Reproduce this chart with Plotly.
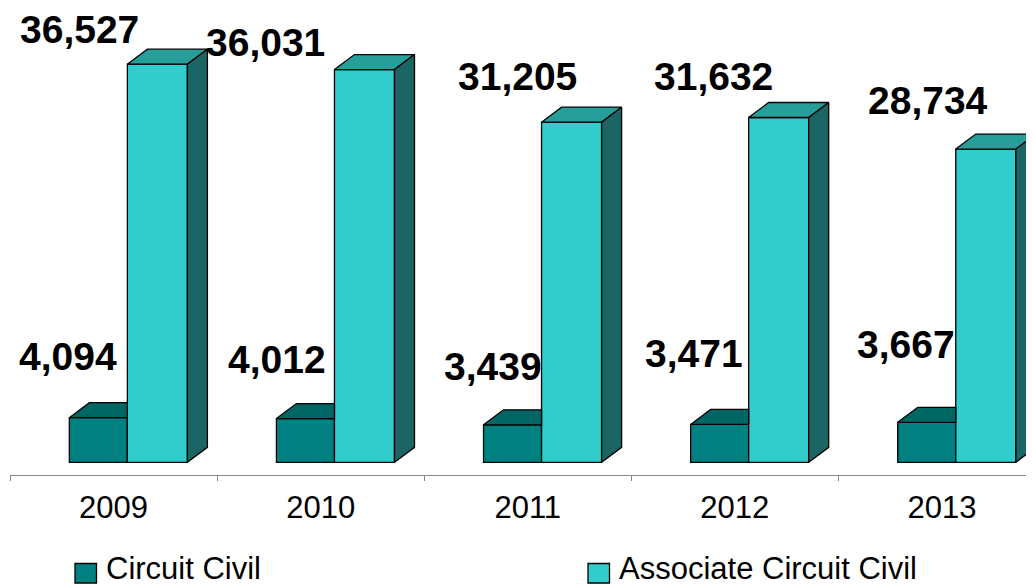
import plotly.graph_objects as go

# ---- data ----
years = ["2009", "2010", "2011", "2012", "2013"]
circuit_civil = [4094, 4012, 3439, 3471, 3667]
associate_circuit_civil = [36527, 36031, 31205, 31632, 28734]

# ---- style / geometry ----
OFS = 8                 # page body margin of the browser
W, H = 1034 - OFS, 587 - OFS
ML = 10 - OFS
PLOT_BOTTOM = 475 - OFS
MB = H - PLOT_BOTTOM
CAT_PX = 207.1          # pixels per category
VAL_PX = 0.0109         # pixels per value unit
BASE_PX = 462.3 - OFS   # pixel row of value 0
PLOT_H = H - MB

C_OFF, C_W = -0.2135, 0.2802
A_OFF, A_W = 0.0667, 0.2899
DDX = 20 / CAT_PX       # 3D depth offset (category units)
DDY = 15 / VAL_PX       # 3D depth offset (value units)

C_FRONT, C_TOP = "#008080", "#006663"
A_FRONT, A_TOP, A_SIDE = "#33CCCC", "#269E9A", "#1B6565"
OUTLINE = dict(color="black", width=1.3)
FONT = "Liberation Sans, Arial, sans-serif"

# label shifts in pixels relative to the top-centre of each bar front
a_lab_dx = [-77.8, -98.6, -54.5, -65.3, -57.4]
a_lab_dy = [35, 27, 45.6, 40.8, 49]
c_lab_dx = [-30.8, -28.6, -20, -25.9, -20.9]
c_lab_dy = [61.5, 58.6, 58.1, 70.5, 78.3]

pos = list(range(len(years)))

fig = go.Figure()
fig.add_bar(x=pos, y=circuit_civil, offset=C_OFF, width=C_W, name="Circuit Civil",
            marker=dict(color=C_FRONT, line=OUTLINE), showlegend=False, hoverinfo="skip")
fig.add_bar(x=pos, y=associate_circuit_civil, offset=A_OFF, width=A_W,
            name="Associate Circuit Civil",
            marker=dict(color=A_FRONT, line=OUTLINE), showlegend=False, hoverinfo="skip")


def faces(values, off, w, kind):
    xs, ys = [], []
    for i, v in zip(pos, values):
        xl = i + off
        xr = xl + w
        if kind == "top_clipped":
            px = [xl, xr, xr, xl + DDX, xl]
            py = [v, v, v + DDY, v + DDY, v]
        elif kind == "top":
            px = [xl, xr, xr + DDX, xl + DDX, xl]
            py = [v, v, v + DDY, v + DDY, v]
        else:  # side
            px = [xr, xr, xr + DDX, xr + DDX, xr]
            py = [0, v, v + DDY, DDY, 0]
        xs += px + [None]
        ys += py + [None]
    return xs, ys


for vals, off, w, kind, col in [
    (circuit_civil, C_OFF, C_W, "top_clipped", C_TOP),
    (associate_circuit_civil, A_OFF, A_W, "top", A_TOP),
    (associate_circuit_civil, A_OFF, A_W, "side", A_SIDE),
]:
    xs, ys = faces(vals, off, w, kind)
    fig.add_trace(go.Scatter(x=xs, y=ys, mode="lines", fill="toself", fillcolor=col,
                             line=OUTLINE, showlegend=False, hoverinfo="skip"))

annotations = []
for i, v in enumerate(associate_circuit_civil):
    annotations.append(dict(x=i + A_OFF + A_W / 2, y=v, xref="x", yref="y",
                            text=f"<b>{v:,}</b>", showarrow=False,
                            xshift=a_lab_dx[i], yshift=a_lab_dy[i],
                            font=dict(family=FONT, size=39, color="black")))
for i, v in enumerate(circuit_civil):
    annotations.append(dict(x=i + C_OFF + C_W / 2, y=v, xref="x", yref="y",
                            text=f"<b>{v:,}</b>", showarrow=False,
                            xshift=c_lab_dx[i], yshift=c_lab_dy[i],
                            font=dict(family=FONT, size=39, color="black")))


# custom legend (reference pixel positions converted to paper coordinates)
def px2paper_x(px):
    return (px - OFS - ML) / (W - ML)


def px2paper_y(py):
    return (PLOT_H - (py - OFS)) / PLOT_H


shapes = []
for (x0, label, col) in [(75, "Circuit Civil", C_FRONT),
                         (588, "Associate Circuit Civil", A_FRONT)]:
    shapes.append(dict(type="rect", xref="paper", yref="paper",
                       x0=px2paper_x(x0), x1=px2paper_x(x0 + 21.5),
                       y0=px2paper_y(583), y1=px2paper_y(563.5),
                       fillcolor=col, line=dict(color="black", width=1.3)))
    annotations.append(dict(x=px2paper_x(x0 + 29), y=px2paper_y(568.5), xref="paper",
                            yref="paper", text=label, showarrow=False,
                            xanchor="left", yanchor="middle",
                            font=dict(family=FONT, size=31, color="black")))

x_right = (W - ML) / CAT_PX - 0.5
y_top = BASE_PX / VAL_PX
y_bot = -(PLOT_H - BASE_PX) / VAL_PX

fig.update_layout(
    width=W, height=H,
    margin=dict(l=ML, r=0, t=0, b=MB, pad=0),
    plot_bgcolor="white", paper_bgcolor="white",
    barmode="overlay",
    showlegend=False,
    annotations=annotations,
    shapes=shapes,
    xaxis=dict(range=[-0.5, x_right], tickmode="array", tickvals=pos, ticktext=years,
               ticks="", showgrid=False, zeroline=False, showline=True,
               linecolor="#868686", linewidth=1.2,
               tickfont=dict(family=FONT, size=31, color="black"),
               ticklabelstandoff=5,
               minor=dict(tickmode="array", tickvals=[p - 0.5 for p in pos] + [pos[-1] + 0.5],
                          ticks="outside", ticklen=5, tickcolor="#868686", tickwidth=1.2,
                          showgrid=False)),
    yaxis=dict(range=[y_bot, y_top], visible=False, showgrid=False, zeroline=False),
)

fig.write_html("out.html")
